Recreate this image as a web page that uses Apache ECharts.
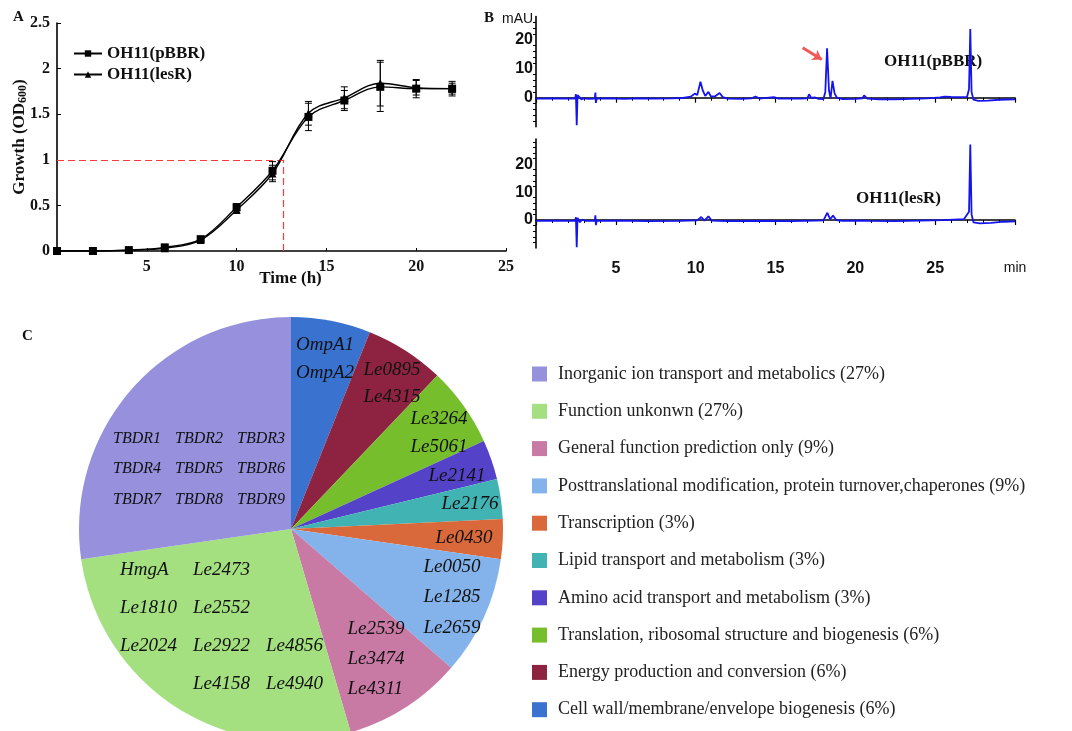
<!DOCTYPE html>
<html><head><meta charset="utf-8">
<script src="https://cdn.jsdelivr.net/npm/echarts@6.0.0/dist/echarts.min.js"></script>
<style>html,body{margin:0;padding:0;background:#fff}#c{width:1072px;height:731px}</style>
</head><body><div id="c"></div>
<script>
// ---------- Panel A: growth curves ----------
const timeH   = [0, 2, 4, 6, 8, 10, 12, 14, 16, 18, 20, 22];
const odPBBR  = [0, 0, 0.01, 0.04, 0.13, 0.48, 0.88, 1.47, 1.65, 1.80, 1.78, 1.78];
const odLesR  = [0, 0, 0.01, 0.03, 0.12, 0.45, 0.85, 1.51, 1.68, 1.84, 1.79, 1.78];
const errPBBR = [0.01, 0.01, 0.01, 0.01, 0.02, 0.04, 0.10, 0.15, 0.11, 0.27, 0.10, 0.08];
const errLesR = [0.01, 0.01, 0.01, 0.01, 0.02, 0.03, 0.09, 0.13, 0.12, 0.25, 0.08, 0.06];
const refPoint = [12.6, 1];
const xTicksA = [5, 10, 15, 20, 25];
const yTicksA = [0, 0.5, 1, 1.5, 2, 2.5];

// ---------- Panel B: HPLC traces (time min, mAU) ----------
const tracePBBR = [[0,-0.3],[1,-0.2],[2,-0.3],[2.45,-0.3],[2.5,1.2],[2.55,-9.5],[2.6,0.9],[2.7,0.5],[2.85,-0.6],[3.0,-0.2],[3.3,-0.4],[3.68,-0.3],[3.72,1.8],[3.75,-1.8],[3.8,-0.3],[4.5,-0.2],[5.5,-0.4],[6.5,-0.2],[7.5,-0.3],[8.5,-0.2],[9.2,-0.1],[9.7,0.4],[9.95,1.4],[10.1,0.9],[10.3,5.5],[10.45,2.4],[10.6,0.6],[10.8,2.0],[10.95,0.5],[11.2,0.4],[11.5,1.6],[11.7,0.2],[12.0,-0.3],[12.8,-0.4],[13.5,-0.2],[13.75,0.4],[14.0,-0.3],[14.9,0.2],[15.2,-0.3],[16.5,-0.3],[17.0,-0.2],[17.1,1.2],[17.25,-0.1],[17.45,0.1],[17.7,-0.4],[18.0,-0.5],[18.12,2],[18.23,17],[18.35,2.5],[18.45,-0.2],[18.57,5.8],[18.7,1.5],[18.85,0],[19.2,-0.5],[20.0,-0.4],[20.45,-0.2],[20.55,0.8],[20.75,-0.3],[21.5,-0.6],[22.5,-0.6],[23.5,-0.4],[24.5,-0.2],[25.3,0.1],[25.6,0.4],[26.0,0.3],[26.5,0.2],[27.0,0.3],[27.12,3],[27.2,23.7],[27.28,2],[27.4,-0.7],[27.7,-1.1],[28.3,-1.0],[29.0,-0.7],[30,-0.6]];
const traceLesR = [[0,-0.3],[1,-0.2],[2,-0.3],[2.45,-0.3],[2.5,1.0],[2.55,-9.7],[2.6,0.8],[2.75,-0.8],[2.9,0.2],[3.1,-0.3],[3.68,-0.3],[3.72,1.7],[3.75,-1.8],[3.8,-0.3],[5,-0.2],[7,-0.4],[9,-0.3],[10.1,-0.1],[10.35,1.1],[10.55,-0.2],[10.8,1.3],[11.0,-0.2],[12,-0.4],[14,-0.3],[16,-0.4],[17.5,-0.2],[18.0,-0.1],[18.25,2.6],[18.42,0.3],[18.6,1.6],[18.8,0.0],[19.2,-0.3],[20.5,-0.2],[20.6,0.3],[20.8,-0.3],[22.5,-0.4],[24,-0.2],[25.5,0.0],[26.8,0.3],[27.12,3],[27.2,27],[27.28,2],[27.4,-0.8],[27.8,-1.2],[28.5,-1.0],[29.3,-0.6],[30,-0.5]];
const arrowFrom = [16.7, 17.2];
const arrowTo   = [17.9, 13.2];
const traceNames = ['OH11(pBBR)', 'OH11(lesR)'];

// ---------- Panel C: functional categories (pie order, clockwise from top) ----------
const categories = [
  'Cell wall/membrane/envelope biogenesis',
  'Energy production and conversion',
  'Translation, ribosomal structure and biogenesis',
  'Amino acid transport and metabolism',
  'Lipid transport and metabolism',
  'Transcription',
  'Posttranslational modification, protein turnover,chaperones',
  'General function prediction only',
  'Function unkonwn',
  'Inorganic ion transport and metabolics'
];
const geneCounts = [2, 2, 2, 1, 1, 1, 3, 3, 9, 9];
const percents   = [6, 6, 6, 3, 3, 3, 9, 9, 27, 27];
const geneRows = [
  [['OmpA1'], ['OmpA2']],
  [['Le0895'], ['Le4315']],
  [['Le3264'], ['Le5061']],
  [['Le2141']],
  [['Le2176']],
  [['Le0430']],
  [['Le0050'], ['Le1285'], ['Le2659']],
  [['Le2539'], ['Le3474'], ['Le4311']],
  [['HmgA', 'Le2473'], ['Le1810', 'Le2552'], ['Le2024', 'Le2922', 'Le4856'], ['', 'Le4158', 'Le4940']],
  [['TBDR1', 'TBDR2', 'TBDR3'], ['TBDR4', 'TBDR5', 'TBDR6'], ['TBDR7', 'TBDR8', 'TBDR9']]
];

// ---------- styling (not data) ----------
const SERIF = '"Liberation Serif", "Times New Roman", serif';
const SANS = '"Liberation Sans", Arial, sans-serif';
const sliceColors = ['#3a73cf', '#8d2340', '#76be2c', '#5442c8', '#42b3b3', '#d9683a', '#83b3ea', '#c87aa5', '#a4e080', '#9690dd'];
const labelPlace = [
  {x: 325, y: 359, align: 'center', lh: 28, size: 19},
  {x: 392, y: 383, align: 'center', lh: 27, size: 19},
  {x: 439, y: 433, align: 'center', lh: 28, size: 19},
  {x: 457, y: 476, align: 'center', lh: 28, size: 19},
  {x: 470, y: 504, align: 'center', lh: 28, size: 19},
  {x: 464, y: 538, align: 'center', lh: 28, size: 19},
  {x: 452, y: 597, align: 'center', lh: 30.5, size: 19},
  {x: 376, y: 659, align: 'center', lh: 30, size: 19},
  {x: 120, y: 627, align: 'left', lh: 37.7, size: 19, cell: 73},
  {x: 113, y: 469, align: 'left', lh: 30.5, size: 16, cell: 62}
];

const chart = echarts.init(document.getElementById('c'), null, {renderer: 'canvas'});

function errSeries(vals, errs) {
  return {
    type: 'custom', xAxisIndex: 0, yAxisIndex: 0, silent: true, z: 3,
    data: timeH.map((t, i) => [t, vals[i] - errs[i], vals[i] + errs[i]]),
    renderItem: function (params, api) {
      const x = api.value(0);
      const lo = api.coord([x, api.value(1)]);
      const hi = api.coord([x, api.value(2)]);
      const w = 3.5;
      const st = {stroke: '#000', lineWidth: 1};
      return {type: 'group', children: [
        {type: 'line', shape: {x1: lo[0], y1: lo[1], x2: hi[0], y2: hi[1]}, style: st},
        {type: 'line', shape: {x1: lo[0] - w, y1: lo[1], x2: lo[0] + w, y2: lo[1]}, style: st},
        {type: 'line', shape: {x1: hi[0] - w, y1: hi[1], x2: hi[0] + w, y2: hi[1]}, style: st}
      ]};
    }
  };
}

const pieNames = categories.map((c, i) => c + ' (' + percents[i] + '%)');

const pieData = categories.map((c, i) => {
  const p = labelPlace[i];
  const rich = {c: {fontFamily: SERIF, fontStyle: 'italic', fontSize: p.size, color: '#111', lineHeight: p.lh, align: 'left'}};
  if (p.cell) rich.c.width = p.cell;
  return {
    name: pieNames[i],
    value: geneCounts[i],
    itemStyle: {color: sliceColors[i]},
    label: {
      formatter: geneRows[i].map(r => r.map(g => '{c|' + (g === '' ? '\u2003' : g) + '}').join('')).join('\n'),
      rich: rich, lineHeight: p.lh, fontSize: p.size
    }
  };
});

const axisLineBlack = {show: true, lineStyle: {color: '#000', width: 1.6}};

const option = {
  animation: false,
  backgroundColor: '#fff',
  grid: [
    {left: 57, top: 23, width: 449, height: 228, containLabel: false, outerBoundsMode: 'none'},
    {left: 536, top: 16.5, width: 479, height: 110.2, containLabel: false, outerBoundsMode: 'none'},
    {left: 536, top: 139, width: 479, height: 109, containLabel: false, outerBoundsMode: 'none'}
  ],
  xAxis: [
    {gridIndex: 0, type: 'value', min: 0, max: 25, interval: 5,
     axisLine: axisLineBlack, axisTick: {show: true, inside: true, length: 3, lineStyle: {color: '#000'}},
     splitLine: {show: false},
     axisLabel: {color: '#111', fontFamily: SERIF, fontWeight: 'bold', fontSize: 16, margin: 8,
                 formatter: v => xTicksA.includes(v) ? String(v) : ''},
     name: 'Time (h)', nameLocation: 'middle', nameGap: 19, nameMoveOverlap: false,
     nameTextStyle: {color: '#111', fontFamily: SERIF, fontWeight: 'bold', fontSize: 17, padding: [0, 0, 0, 18]}},
    {gridIndex: 1, type: 'value', min: 0, max: 30, interval: 5,
     axisLine: axisLineBlack, axisTick: {show: true, length: 5, lineStyle: {color: '#000', width: 1.2}},
     minorTick: {show: true, splitNumber: 5, length: 3, lineStyle: {color: '#000'}},
     splitLine: {show: false}, axisLabel: {show: false}},
    {gridIndex: 2, type: 'value', min: 0, max: 30, interval: 5,
     axisLine: axisLineBlack, axisTick: {show: true, length: 5, lineStyle: {color: '#000', width: 1.2}},
     minorTick: {show: true, splitNumber: 5, length: 3, lineStyle: {color: '#000'}},
     splitLine: {show: false},
     axisLabel: {color: '#111', fontFamily: SANS, fontWeight: 'bold', fontSize: 16, margin: 13,
                 formatter: v => v === 30 ? '{m|min}' : (v === 0 ? '' : String(v)),
                 rich: {m: {fontFamily: SANS, fontSize: 14, fontWeight: 'normal', color: '#111', padding: [0, 0, 10, 0]}}}}
  ],
  yAxis: [
    {gridIndex: 0, type: 'value', min: 0, max: 2.5, interval: 0.5,
     axisLine: axisLineBlack, axisTick: {show: true, inside: true, length: 4, lineStyle: {color: '#000'}},
     splitLine: {show: false},
     axisLabel: {color: '#111', fontFamily: SERIF, fontWeight: 'bold', fontSize: 16, margin: 7,
                 formatter: v => yTicksA.includes(v) ? String(v) : ''},
     name: 'Growth (OD{s|600})', nameLocation: 'middle', nameGap: 28, nameRotate: 90, nameMoveOverlap: false,
     nameTextStyle: {color: '#111', fontFamily: SERIF, fontWeight: 'bold', fontSize: 17,
                     rich: {s: {fontFamily: SERIF, fontWeight: 'bold', fontSize: 12, color: '#111', padding: [6, 0, 0, 0]}}}},
    {gridIndex: 1, type: 'value', min: -10, max: 28, interval: 10,
     axisLine: axisLineBlack, axisTick: {show: false},
     minorTick: {show: true, splitNumber: 5, length: 3, lineStyle: {color: '#000'}},
     splitLine: {show: false},
     axisLabel: {color: '#111', fontFamily: SANS, fontWeight: 'bold', fontSize: 16, margin: 3,
                 formatter: v => (v === 0 || v === 10 || v === 20) ? String(v) : ''}},
    {gridIndex: 2, type: 'value', min: -10, max: 29, interval: 10,
     axisLine: axisLineBlack, axisTick: {show: false},
     minorTick: {show: true, splitNumber: 5, length: 3, lineStyle: {color: '#000'}},
     splitLine: {show: false},
     axisLabel: {color: '#111', fontFamily: SANS, fontWeight: 'bold', fontSize: 16, margin: 3,
                 formatter: v => (v === 0 || v === 10 || v === 20) ? String(v) : ''}}
  ],
  legend: [
    {data: traceNames, orient: 'vertical', left: 68, top: 40, itemWidth: 28, itemHeight: 8, itemGap: 4,
     textStyle: {color: '#111', fontFamily: SERIF, fontWeight: 'bold', fontSize: 17, lineHeight: 17}},
    {data: pieNames.slice().reverse(), orient: 'vertical', left: 527, top: 360, icon: 'rect',
     itemWidth: 15, itemHeight: 15, itemGap: 19.3,
     textStyle: {color: '#222', fontFamily: SERIF, fontSize: 18, lineHeight: 18, padding: [0, 0, 0, 6]}}
  ],
  series: [
    errSeries(odLesR, errLesR),
    errSeries(odPBBR, errPBBR),
    {name: traceNames[1], type: 'line', xAxisIndex: 0, yAxisIndex: 0, smooth: 0.35,
     data: timeH.map((t, i) => [t, odLesR[i]]), symbol: 'triangle', symbolSize: 8,
     lineStyle: {color: '#000', width: 1.4}, itemStyle: {color: '#000'}, z: 4},
    {name: traceNames[0], type: 'line', xAxisIndex: 0, yAxisIndex: 0, smooth: 0.35,
     data: timeH.map((t, i) => [t, odPBBR[i]]), symbol: 'rect', symbolSize: 8,
     lineStyle: {color: '#000', width: 1.4}, itemStyle: {color: '#000'}, z: 5,
     markLine: {silent: true, symbol: 'none', animation: false, label: {show: false},
       lineStyle: {color: '#ff3b3b', type: [7, 4], width: 1.2},
       data: [
         [{coord: [0, refPoint[1]]}, {coord: [refPoint[0], refPoint[1]]}],
         [{coord: [refPoint[0], 0]}, {coord: [refPoint[0], refPoint[1]]}]
       ]}},
    {name: 'traceTop', type: 'line', xAxisIndex: 1, yAxisIndex: 1, data: tracePBBR, symbol: 'none',
     lineStyle: {color: '#1414f0', width: 1.8}, z: 3,
     markLine: {silent: true, animation: false, label: {show: false}, symbol: ['none', 'arrow'], symbolSize: [9, 9],
       lineStyle: {color: '#f05a55', type: 'solid', width: 3},
       data: [[{coord: arrowFrom}, {coord: arrowTo}]]}},
    {name: 'traceBottom', type: 'line', xAxisIndex: 2, yAxisIndex: 2, data: traceLesR, symbol: 'none',
     lineStyle: {color: '#1414f0', width: 1.8}, z: 3},
    {type: 'pie', center: [291, 529], radius: 212, startAngle: 90, clockwise: true,
     avoidLabelOverlap: false, silent: true, emphasis: {disabled: true},
     itemStyle: {borderWidth: 0},
     label: {show: true, position: 'inside', color: '#111', fontFamily: SERIF, fontStyle: 'italic'},
     labelLine: {show: false},
     labelLayout: function (params) {
       const p = labelPlace[params.dataIndex];
       return {x: p.x, y: p.y, align: p.align, verticalAlign: 'middle'};
     },
     data: pieData}
  ],
  graphic: [
    {type: 'text', left: 13, top: 10, style: {text: 'A', font: 'bold 15px ' + SERIF, fill: '#111'}},
    {type: 'text', left: 484, top: 11, style: {text: 'B', font: 'bold 15px ' + SERIF, fill: '#111'}},
    {type: 'text', left: 502, top: 12, style: {text: 'mAU', font: '14px ' + SANS, fill: '#111'}},
    {type: 'text', left: 22, top: 329, style: {text: 'C', font: 'bold 15px ' + SERIF, fill: '#111'}},
    {type: 'text', left: 884, top: 53, style: {text: traceNames[0], font: 'bold 17px ' + SERIF, fill: '#111'}},
    {type: 'text', left: 856, top: 190, style: {text: traceNames[1], font: 'bold 17px ' + SERIF, fill: '#111'}}
  ]
};
chart.setOption(option);
</script>
</body></html>
